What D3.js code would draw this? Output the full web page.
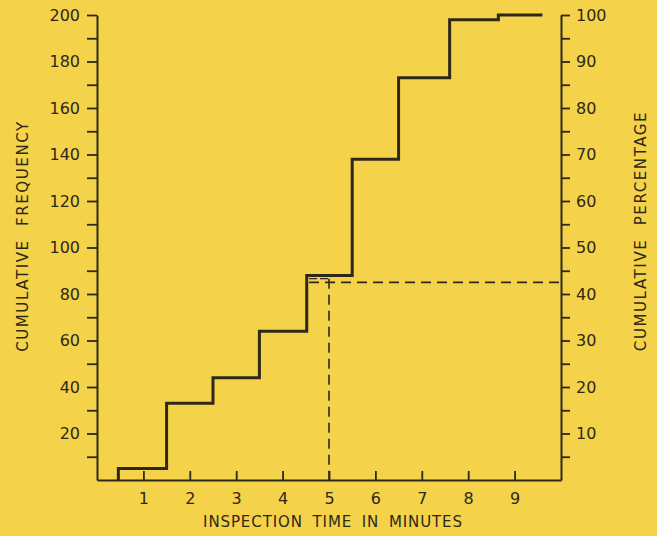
<!DOCTYPE html>
<html>
<head>
<meta charset="utf-8">
<script src="https://cdn.jsdelivr.net/npm/d3@7"></script>
<style>
  html, body { margin: 0; padding: 0; background: #f4d24a; }
  svg { display: block; }
  text { font-family: "DejaVu Sans", sans-serif; fill: #2e2818; }
</style>
</head>
<body>
<svg id="chart"></svg>
<script>
// step edges (minutes) and cumulative frequency after each edge
const stepEdges = [0.46, 1.5, 2.5, 3.5, 4.52, 5.5, 6.5, 7.6, 8.65, 9.6];
const cumFreq = [5, 33, 44, 64, 88, 138, 173, 198, 200];
const xTicks = [1, 2, 3, 4, 5, 6, 7, 8, 9];
const freqTicks = [20, 40, 60, 80, 100, 120, 140, 160, 180, 200];
const pctTicks = [10, 20, 30, 40, 50, 60, 70, 80, 90, 100];
// dashed reading line: 42.5 % -> 5 minutes
const readFreq = 85;
const readTime = 5;

const width = 657, height = 536;
const margin = { top: 15, right: 96, bottom: 56, left: 97 };
const ink = '#2e2818';

const svg = d3.select('#chart')
  .attr('width', width)
  .attr('height', height);

const x = d3.scaleLinear()
  .domain([0, 10])
  .range([margin.left, width - margin.right]);

const y = d3.scaleLinear()
  .domain([0, 200])
  .range([height - margin.bottom, margin.top]);

const yPct = d3.scaleLinear()
  .domain([0, 100])
  .range([height - margin.bottom, margin.top]);

// axes
const leftAxis = svg.append('g')
  .attr('transform', `translate(${margin.left},0)`)
  .call(d3.axisLeft(y).tickValues(d3.range(10, 201, 10)).tickSize(10).tickSizeOuter(0)
    .tickFormat(d => freqTicks.includes(d) ? d : ''));

const rightAxis = svg.append('g')
  .attr('transform', `translate(${width - margin.right},0)`)
  .call(d3.axisRight(yPct).tickValues(d3.range(5, 101, 5)).tickSize(9).tickSizeOuter(0)
    .tickFormat(d => pctTicks.includes(d) ? d : ''));

const bottomAxis = svg.append('g')
  .attr('transform', `translate(0,${height - margin.bottom})`)
  .call(d3.axisBottom(x).tickValues(xTicks).tickSize(-9).tickSizeOuter(0));

[leftAxis, rightAxis, bottomAxis].forEach(g => {
  g.select('.domain').attr('stroke', ink).attr('stroke-width', 2);
  g.selectAll('.tick line').attr('stroke', ink).attr('stroke-width', 1.8);
  g.selectAll('.tick text')
    .attr('fill', ink)
    .style('font-size', '16px')
    .style('font-family', '"DejaVu Sans", sans-serif');
});
leftAxis.selectAll('.tick text').attr('x', -17);
rightAxis.selectAll('.tick text').attr('x', 15);
bottomAxis.selectAll('.tick text').attr('y', 13);
bottomAxis.selectAll('.tick line').attr('y1', 0);

// step line
const pts = [[stepEdges[0], 0]];
cumFreq.forEach((v, i) => {
  pts.push([stepEdges[i], v]);
  pts.push([stepEdges[i + 1], v]);
});
const line = d3.line()
  .x(d => x(d[0]))
  .y(d => y(d[1]));

svg.append('path')
  .attr('d', line(pts))
  .attr('fill', 'none')
  .attr('stroke', ink)
  .attr('stroke-width', 3)
  .attr('stroke-linejoin', 'miter');

// dashed reading lines
const dash = '10,6';
svg.append('path')
  .attr('d', line([[stepEdges[4] + 0.05, readFreq], [10, readFreq]]))
  .attr('fill', 'none').attr('stroke', ink).attr('stroke-width', 1.6)
  .attr('stroke-dasharray', dash);
svg.append('path')
  .attr('d', line([[stepEdges[4] + 0.05, readFreq + 1.6], [readTime, readFreq + 1.6]]))
  .attr('fill', 'none').attr('stroke', ink).attr('stroke-width', 1.4)
  .attr('stroke-dasharray', '8,3');
svg.append('path')
  .attr('d', line([[readTime, readFreq + 1.6], [readTime, 0]]))
  .attr('fill', 'none').attr('stroke', ink).attr('stroke-width', 1.6)
  .attr('stroke-dasharray', dash);

// titles
svg.append('text')
  .attr('transform', 'translate(28,236) rotate(-90)')
  .attr('text-anchor', 'middle')
  .style('font-size', '15px')
  .style('letter-spacing', '1.6px')
  .style('word-spacing', '7px')
  .text('CUMULATIVE FREQUENCY');

svg.append('text')
  .attr('transform', 'translate(646,231) rotate(-90)')
  .attr('text-anchor', 'middle')
  .style('font-size', '15px')
  .style('letter-spacing', '1.6px')
  .style('word-spacing', '7px')
  .text('CUMULATIVE PERCENTAGE');

svg.append('text')
  .attr('x', 333)
  .attr('y', 527)
  .attr('text-anchor', 'middle')
  .style('font-size', '15px')
  .style('letter-spacing', '0.9px')
  .style('word-spacing', '4px')
  .text('INSPECTION TIME IN MINUTES');
</script>
</body>
</html>
